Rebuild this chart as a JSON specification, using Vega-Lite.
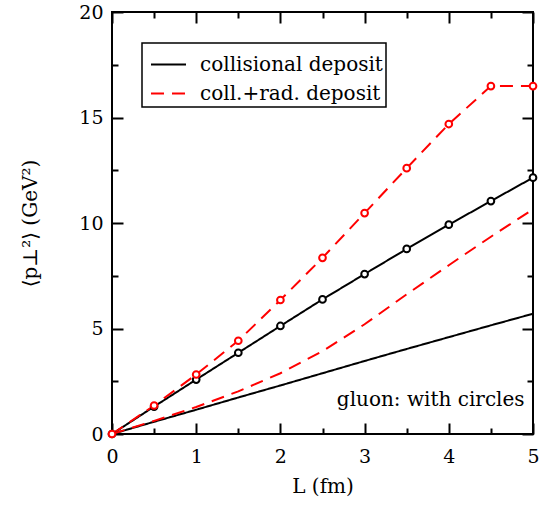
{
  "$schema": "https://vega.github.io/schema/vega-lite/v6.json",
  "width": 421,
  "height": 422,
  "autosize": {"type": "none"},
  "padding": {"left": 112, "top": 12, "right": 7, "bottom": 79},
  "background": "white",
  "config": {
    "font": "DejaVu Serif",
    "view": {"stroke": "black", "strokeWidth": 2},
    "axis": {"grid": false, "domain": false, "tickColor": "black", "tickWidth": 2, "labelColor": "black", "labelFontSize": 19, "labelFont": "DejaVu Serif", "titleFont": "DejaVu Serif", "titleFontSize": 20, "titleFontWeight": "normal", "titleColor": "black", "labelFlush": false, "labelOverlap": false},
    "legend": {"strokeWidth": 1.5}
  },
  "datasets": {
    "curves": [
      {"L": 0, "p2": 0, "series": "collisional deposit", "particle": "gluon"},
      {"L": 0.5, "p2": 1.3, "series": "collisional deposit", "particle": "gluon"},
      {"L": 1, "p2": 2.58, "series": "collisional deposit", "particle": "gluon"},
      {"L": 1.5, "p2": 3.85, "series": "collisional deposit", "particle": "gluon"},
      {"L": 2, "p2": 5.12, "series": "collisional deposit", "particle": "gluon"},
      {"L": 2.5, "p2": 6.38, "series": "collisional deposit", "particle": "gluon"},
      {"L": 3, "p2": 7.58, "series": "collisional deposit", "particle": "gluon"},
      {"L": 3.5, "p2": 8.77, "series": "collisional deposit", "particle": "gluon"},
      {"L": 4, "p2": 9.92, "series": "collisional deposit", "particle": "gluon"},
      {"L": 4.5, "p2": 11.04, "series": "collisional deposit", "particle": "gluon"},
      {"L": 5, "p2": 12.15, "series": "collisional deposit", "particle": "gluon"},
      {"L": 0, "p2": 0, "series": "coll.+rad. deposit", "particle": "gluon"},
      {"L": 0.5, "p2": 1.35, "series": "coll.+rad. deposit", "particle": "gluon"},
      {"L": 1, "p2": 2.82, "series": "coll.+rad. deposit", "particle": "gluon"},
      {"L": 1.5, "p2": 4.42, "series": "coll.+rad. deposit", "particle": "gluon"},
      {"L": 2, "p2": 6.35, "series": "coll.+rad. deposit", "particle": "gluon"},
      {"L": 2.5, "p2": 8.35, "series": "coll.+rad. deposit", "particle": "gluon"},
      {"L": 3, "p2": 10.47, "series": "coll.+rad. deposit", "particle": "gluon"},
      {"L": 3.5, "p2": 12.6, "series": "coll.+rad. deposit", "particle": "gluon"},
      {"L": 4, "p2": 14.69, "series": "coll.+rad. deposit", "particle": "gluon"},
      {"L": 4.5, "p2": 16.49, "series": "coll.+rad. deposit", "particle": "gluon"},
      {"L": 5, "p2": 16.49, "series": "coll.+rad. deposit", "particle": "gluon"},
      {"L": 0, "p2": 0, "series": "collisional deposit", "particle": "quark"},
      {"L": 0.5, "p2": 0.58, "series": "collisional deposit", "particle": "quark"},
      {"L": 1, "p2": 1.15, "series": "collisional deposit", "particle": "quark"},
      {"L": 1.5, "p2": 1.73, "series": "collisional deposit", "particle": "quark"},
      {"L": 2, "p2": 2.3, "series": "collisional deposit", "particle": "quark"},
      {"L": 2.5, "p2": 2.88, "series": "collisional deposit", "particle": "quark"},
      {"L": 3, "p2": 3.46, "series": "collisional deposit", "particle": "quark"},
      {"L": 3.5, "p2": 4.03, "series": "collisional deposit", "particle": "quark"},
      {"L": 4, "p2": 4.59, "series": "collisional deposit", "particle": "quark"},
      {"L": 4.5, "p2": 5.15, "series": "collisional deposit", "particle": "quark"},
      {"L": 5, "p2": 5.7, "series": "collisional deposit", "particle": "quark"},
      {"L": 0, "p2": 0, "series": "coll.+rad. deposit", "particle": "quark"},
      {"L": 0.5, "p2": 0.62, "series": "coll.+rad. deposit", "particle": "quark"},
      {"L": 1, "p2": 1.28, "series": "coll.+rad. deposit", "particle": "quark"},
      {"L": 1.5, "p2": 2.02, "series": "coll.+rad. deposit", "particle": "quark"},
      {"L": 2, "p2": 2.88, "series": "coll.+rad. deposit", "particle": "quark"},
      {"L": 2.5, "p2": 3.92, "series": "coll.+rad. deposit", "particle": "quark"},
      {"L": 3, "p2": 5.2, "series": "coll.+rad. deposit", "particle": "quark"},
      {"L": 3.5, "p2": 6.62, "series": "coll.+rad. deposit", "particle": "quark"},
      {"L": 4, "p2": 8.0, "series": "coll.+rad. deposit", "particle": "quark"},
      {"L": 4.5, "p2": 9.35, "series": "coll.+rad. deposit", "particle": "quark"},
      {"L": 5, "p2": 10.65, "series": "coll.+rad. deposit", "particle": "quark"}
    ],
    "note": [{"L": 4.9, "p2": 1.33, "label": "gluon: with circles"}]
  },
  "resolve": {"scale": {"x": "shared", "y": "shared"}, "axis": {"x": "independent", "y": "independent"}},
  "layer": [
    {
      "data": {"name": "curves"},
      "mark": {"type": "line", "strokeWidth": 2, "clip": true},
      "encoding": {
        "x": {"field": "L", "type": "quantitative", "scale": {"domain": [0, 5], "nice": false},
          "axis": {"orient": "bottom", "values": [0, 0.5, 1, 1.5, 2, 2.5, 3, 3.5, 4, 4.5, 5],
            "tickSize": {"condition": {"test": "datum.value % 1 === 0", "value": -11}, "value": -6},
            "labelExpr": "datum.value % 1 === 0 ? format(datum.value, 'd') : ''",
            "labelPadding": 24, "title": "L (fm)", "titlePadding": 5}},
        "y": {"field": "p2", "type": "quantitative", "scale": {"domain": [0, 20], "nice": false},
          "axis": {"orient": "left", "values": [0, 2.5, 5, 7.5, 10, 12.5, 15, 17.5, 20],
            "tickSize": {"condition": {"test": "datum.value % 5 === 0", "value": -11}, "value": -6},
            "labelExpr": "datum.value % 5 === 0 ? format(datum.value, 'd') : ''",
            "labelPadding": 20, "title": "⟨p⊥²⟩ (GeV²)", "titlePadding": 38}},
        "color": {"field": "series", "type": "nominal",
          "scale": {"domain": ["collisional deposit", "coll.+rad. deposit"], "range": ["black", "red"]},
          "legend": {"title": null, "orient": "none", "legendX": 30, "legendY": 31, "strokeColor": "black", "fillColor": "white", "padding": 3, "symbolOffset": 5, "symbolType": "stroke", "symbolSize": 1225, "symbolStrokeWidth": 2, "labelFontSize": 20, "labelFont": "DejaVu Serif", "labelColor": "black", "labelOffset": 13, "labelLimit": 400, "rowPadding": -14}},
        "strokeDash": {"field": "series", "type": "nominal",
          "scale": {"domain": ["collisional deposit", "coll.+rad. deposit"], "range": [[1, 0], [13, 8]]},
          "legend": {"title": null}},
        "detail": {"field": "particle", "type": "nominal"}
      }
    },
    {
      "data": {"name": "curves"},
      "transform": [{"filter": "datum.particle === 'gluon' && datum.series === 'collisional deposit'"}],
      "mark": {"type": "point", "filled": false, "fill": "white", "fillOpacity": 1, "stroke": "black", "strokeWidth": 2, "size": 45, "opacity": 1, "clip": false},
      "encoding": {
        "x": {"field": "L", "type": "quantitative", "axis": null},
        "y": {"field": "p2", "type": "quantitative", "axis": null}
      }
    },
    {
      "data": {"name": "curves"},
      "transform": [{"filter": "datum.particle === 'gluon' && datum.series === 'coll.+rad. deposit'"}],
      "mark": {"type": "point", "filled": false, "fill": "white", "fillOpacity": 1, "stroke": "red", "strokeWidth": 2, "size": 45, "opacity": 1, "clip": false},
      "encoding": {
        "x": {"field": "L", "type": "quantitative", "axis": null},
        "y": {"field": "p2", "type": "quantitative", "axis": null}
      }
    },
    {
      "data": {"name": "note"},
      "mark": {"type": "text", "align": "right", "baseline": "alphabetic", "fontSize": 20, "font": "DejaVu Serif", "color": "black"},
      "encoding": {
        "x": {"field": "L", "type": "quantitative", "axis": null},
        "y": {"field": "p2", "type": "quantitative", "axis": null},
        "text": {"field": "label"}
      }
    },
    {
      "data": {"name": "curves"},
      "mark": {"type": "point", "opacity": 0},
      "encoding": {
        "x": {"field": "L", "type": "quantitative",
          "axis": {"orient": "top", "values": [0, 0.5, 1, 1.5, 2, 2.5, 3, 3.5, 4, 4.5, 5],
            "tickSize": {"condition": {"test": "datum.value % 1 === 0", "value": -11}, "value": -6},
            "labels": false, "title": null}},
        "y": {"field": "p2", "type": "quantitative",
          "axis": {"orient": "right", "values": [0, 2.5, 5, 7.5, 10, 12.5, 15, 17.5, 20],
            "tickSize": {"condition": {"test": "datum.value % 5 === 0", "value": -11}, "value": -6},
            "labels": false, "title": null}}
      }
    }
  ]
}
